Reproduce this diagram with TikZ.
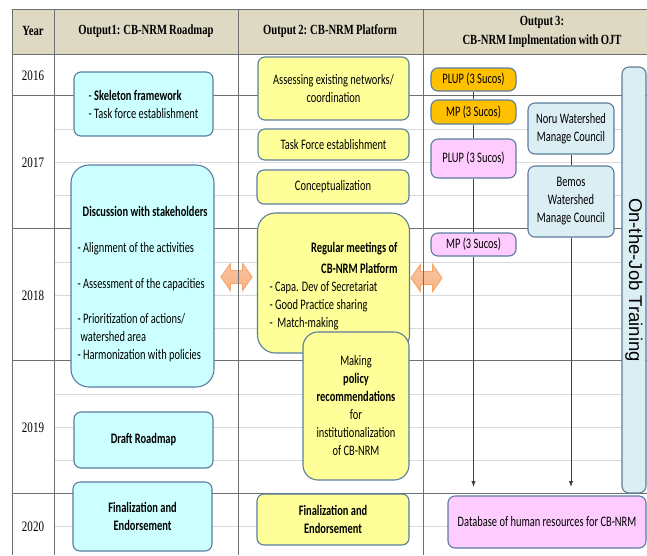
\documentclass[tikz,border=0pt]{standalone}
\usepackage{fontspec}
\setmainfont{Liberation Serif}
\newfontfamily\hdfont[FakeStretch=0.76,WordSpace=0.8]{Liberation Serif}
\newfontfamily\boxfont[FakeStretch=0.72]{Carlito}
\newfontfamily\ojtfont{Liberation Sans}
\usetikzlibrary{arrows.meta,positioning,calc,shapes.arrows}
\hyphenpenalty=10000
\definecolor{headtan}{HTML}{DDD9C3}
\definecolor{gridmajor}{HTML}{6E6E6E}
\definecolor{gridminor}{HTML}{DADADA}
\definecolor{boxline}{HTML}{5A7C9E}
\definecolor{linkgray}{HTML}{404040}
\definecolor{cyanfill}{HTML}{CCFFFF}
\definecolor{yelfill}{HTML}{FFFF99}
\definecolor{orgfill}{HTML}{FFC000}
\definecolor{pinkfill}{HTML}{FFCCFF}
\definecolor{bluefill}{HTML}{DAEEF3}
\definecolor{arrowline}{HTML}{F5A66E}
\definecolor{arrowtop}{HTML}{F9C4A0}
\definecolor{arrowmid}{HTML}{FDE8DA}
\definecolor{arrowbot}{HTML}{F8B486}
\tikzset{
    >={Latex[length=6pt,width=4.5pt]},
    box/.style={draw=boxline,line width=1.1pt,rounded corners=7pt,inner sep=2pt,
        align=center,font=\boxfont\fontsize{14.5}{18}\selectfont},
    roadbox/.style={box,fill=cyanfill},
    platbox/.style={box,fill=yelfill},
    orgbox/.style={box,fill=orgfill,minimum width=85pt,minimum height=23pt},
    pinkbox/.style={box,fill=pinkfill},
    councilbox/.style={box,fill=bluefill,minimum width=86pt},
    bigbox/.style={rounded corners=18pt},
    yearlabel/.style={font=\hdfont\fontsize{14.5}{17}\selectfont},
    headlabel/.style={font=\hdfont\bfseries\fontsize{14}{19}\selectfont,align=center},
    dblarrow/.style={double arrow,draw=arrowline,line width=1pt,
        top color=arrowtop,middle color=arrowmid,bottom color=arrowbot,
        minimum height=31pt,minimum width=26pt,inner xsep=0pt,inner ysep=6pt,
        double arrow head extend=7pt,double arrow tip angle=110}
}
\begin{document}
\begin{tikzpicture}[x=1pt,y=-1pt,
        majorline/.style={draw=gridmajor,line width=0.8pt},
        minorline/.style={draw=gridminor,line width=0.8pt},
        link/.style={draw=linkgray,line width=1pt}
    ]
    \useasboundingbox (0,0) rectangle (647,555);
    % table
    \fill[headtan] (12,9) rectangle (647,54);
    \node[dblarrow] (arrL) at (236.5,277) {};
    \node[dblarrow] (arrR) at (426.5,278) {};
    \foreach \y in {129,162,195,262,295,328,394,427,460,526}
        \draw[minorline] (54,\y) -- (647,\y);
    \foreach \y in {9,54,95,228,360,493}
        \draw[majorline] (12,\y) -- (647,\y);
    \foreach \x in {12,54,238,423}
        \draw[majorline] (\x,9) -- (\x,555);

    \node[headlabel] (hyear) at (33,31) {Year};
    \node[headlabel] (hout1) at (146,31) {Output1: CB-NRM Roadmap};
    \node[headlabel] (hout2) at (330,31) {Output 2: CB-NRM Platform};
    \node[headlabel] (hout3) at (542,32) {Output 3:\\CB-NRM Implmentation with OJT};

    \node[yearlabel] (y2016) at (33,76) {2016};
    \node[yearlabel] (y2017) at (33,163) {2017};
    \node[yearlabel] (y2018) at (33,296) {2018};
    \node[yearlabel] (y2019) at (33,428) {2019};
    \node[yearlabel] (y2020) at (33,527) {2020};

    % output 1
    \node[roadbox,minimum width=139pt,minimum height=64pt,align=left] (skel) at (143.5,104)
        {- \textbf{Skeleton framework}\\- Task force establishment};
    \node[roadbox,bigbox,minimum width=143pt,minimum height=222pt,text width=130pt,align=flush left] (disc) at (142.5,276)
        {\rule{0pt}{26pt}\hspace*{\fill}\textbf{Discussion with stakeholders}\hspace*{\fill}\\[18pt]
         - Alignment of the activities\\[18pt]
         - Assessment of the capacities\\[17pt]
         - Prioritization of actions/\\
         \hspace*{3pt}watershed area\\
         - Harmonization with policies};
    \node[roadbox,minimum width=139pt,minimum height=56pt] (draft) at (143.5,440) {\textbf{Draft Roadmap}};
    \node[roadbox,minimum width=139pt,minimum height=69pt] (fin1) at (142.5,516.5)
        {\textbf{Finalization and}\\\textbf{Endorsement}};

    % output 2
    \node[platbox,minimum width=151pt,minimum height=63pt] (assess) at (333.5,88.5)
        {Assessing existing networks/\\coordination};
    \node[platbox,minimum width=151pt,minimum height=31pt] (task) at (333.5,144.5) {Task Force establishment};
    \node[platbox,minimum width=152pt,minimum height=34pt] (concept) at (333,187) {Conceptualization};
    \node[platbox,bigbox,minimum width=152pt,minimum height=140pt,text width=128pt,align=flush left] (meet) at (333.5,283)
        {\rule{0pt}{16pt}\hspace*{\fill}\textbf{Regular meetings of}\hspace*{\fill}\\[3pt]
         \hspace*{\fill}\textbf{CB-NRM Platform}\hspace*{\fill}\\
         - Capa. Dev of Secretariat\\
         - Good Practice sharing\\
         -\ \ Match-making};
    \node[platbox,rounded corners=15pt,minimum width=106pt,minimum height=148pt] (policy) at (356,406)
        {Making\\\textbf{policy}\\\textbf{recommendations}\\for\\institutionalization\\of CB-NRM};
    \node[platbox,minimum width=152pt,minimum height=51pt] (fin2) at (333,519.5)
        {\textbf{Finalization and}\\\textbf{Endorsement}};

    % output 3
    \node[orgbox] (plup1) at (473.5,79.5) {PLUP (3 Sucos)};
    \node[orgbox,minimum height=24pt] (mp1) at (473.5,112) {MP (3 Sucos)};
    \node[pinkbox,minimum width=85pt,minimum height=39pt] (plup2) at (473.5,158.5) {PLUP (3 Sucos)};
    \node[pinkbox,minimum width=85pt,minimum height=23pt] (mp2) at (473.5,244.5) {MP (3 Sucos)};
    \node[councilbox,minimum height=51pt] (noru) at (571,128.5) {Noru Watershed\\Manage Council};
    \node[councilbox,minimum height=71pt] (bemos) at (571,201.5) {Bemos\\Watershed\\Manage Council};
    \node[box,fill=bluefill,rotate=-90,minimum width=426pt,minimum height=24pt,
        font=\ojtfont\fontsize{18.5}{20}\selectfont] (ojt) at (634,280) {On-the-Job Training};
    \node[pinkbox,minimum width=198pt,minimum height=52pt] (db) at (547,522)
        {Database of human resources for CB-NRM};

    \coordinate (tipA) at (473.5,487);
    \coordinate (tipB) at (571,487);
    \draw[link] (plup1) -- (mp1) -- (plup2) -- (mp2);
    \draw[link,->] (mp2) -- (tipA);
    \draw[link] (noru) -- (bemos);
    \draw[link,->] (bemos) -- (tipB);
\end{tikzpicture}
\end{document}
